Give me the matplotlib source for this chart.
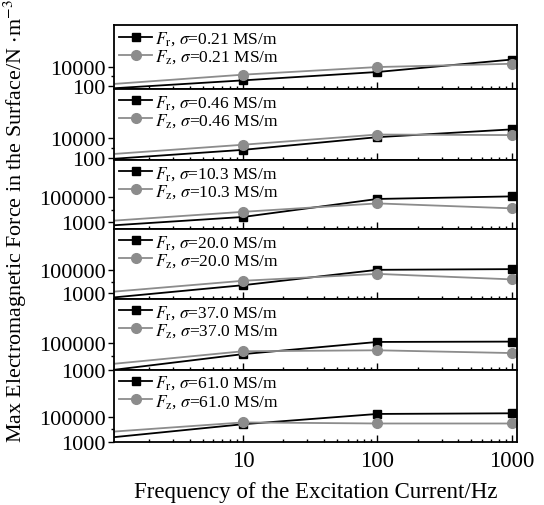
import matplotlib
matplotlib.use("Agg")
import matplotlib.pyplot as plt

plt.rcParams["font.family"] = ["Liberation Serif", "DejaVu Serif"]
plt.rcParams["mathtext.fontset"] = "stix"

# Frequency points (Hz)
FREQ = [1, 10, 100, 1000]

# Conductivity of each panel (MS/m)
SIGMA = ["0.21", "0.46", "10.3", "20.0", "37.0", "61.0"]

# Max radial force F_r per panel (N/m^3)
FR = [
    [48, 360, 2800, 59000],
    [85, 680, 11700, 67000],
    [560, 2700, 72000, 115000],
    [370, 4800, 107000, 123000],
    [900, 15000, 122000, 129000],
    [2100, 24500, 160000, 180000],
]
# Max axial force F_z per panel (N/m^3)
FZ = [
    [137, 1450, 9400, 21000],
    [250, 2140, 21000, 18600],
    [1300, 6900, 32000, 13000],
    [1200, 11700, 47000, 15500],
    [2600, 24500, 29000, 18000],
    [6000, 34000, 28000, 28000],
]

# y range and tick values of each panel
YLIMS = [(41, 2.6e8), (68, 5.4e8), (300, 8.5e7), (300, 4e8), (1000, 2e8), (1000, 5e8)]
YMAJOR = [[100, 10000], [100, 10000], [1000, 100000], [1000, 100000], [1000, 100000], [1000, 100000]]
YMINOR = [[1000], [1000], [10000], [10000], [10000], [10000]]

fig, axes = plt.subplots(6, 1, figsize=(5.44, 5.06), dpi=100, sharex=True,
                         gridspec_kw={"height_ratios": [64, 71, 69, 70, 71, 72]})
fig.subplots_adjust(left=0.21, right=0.95, top=0.948, bottom=0.125, hspace=0)

for i, ax in enumerate(axes):
    ax.plot(FREQ, FR[i], color="black", lw=1.3, marker="s", ms=6,
            label=r"$F_{\rm r}$, $\sigma$=" + SIGMA[i] + " MS/m")
    ax.plot(FREQ, FZ[i], color="#8c8c8c", lw=1.3, marker="o", ms=7,
            label=r"$F_{\rm z}$, $\sigma$=" + SIGMA[i] + " MS/m")
    ax.set_xscale("log")
    ax.set_yscale("log")
    ax.set_xlim(1.1, 1090)
    ax.set_ylim(*YLIMS[i])
    ax.set_yticks(YMAJOR[i])
    ax.set_yticklabels([str(v) for v in YMAJOR[i]])
    ax.set_yticks(YMINOR[i], minor=True)
    ax.tick_params(axis="y", which="major", direction="out", length=4, width=1, labelsize=16, pad=2)
    ax.tick_params(axis="y", which="minor", direction="out", length=2.5, width=1, labelleft=False)
    ax.tick_params(axis="x", which="major", direction="in", length=5, width=1, labelsize=16.5, pad=6)
    ax.tick_params(axis="x", which="minor", direction="in", length=2.5, width=1)
    for s in ax.spines.values():
        s.set_linewidth(1.3)
    ax.legend(loc="upper left", bbox_to_anchor=(0, 1.02), frameon=False, fontsize=12.5,
              handlelength=1.9, handletextpad=0.15, labelspacing=0.02, borderpad=0.2,
              borderaxespad=0.1)

axes[-1].set_xticks([10, 100, 1000])
axes[-1].set_xticklabels(["10", "100", "1000"])
axes[-1].set_xlabel("Frequency of the Excitation Current/Hz", fontsize=16.5, labelpad=7)

fig.text(0.028, 0.562, r"Max Electromagnetic Force in the Surface/N $\cdot$m$^{-3}$",
         rotation=90, ha="center", va="center", fontsize=15.8)

fig.savefig("out.png")
